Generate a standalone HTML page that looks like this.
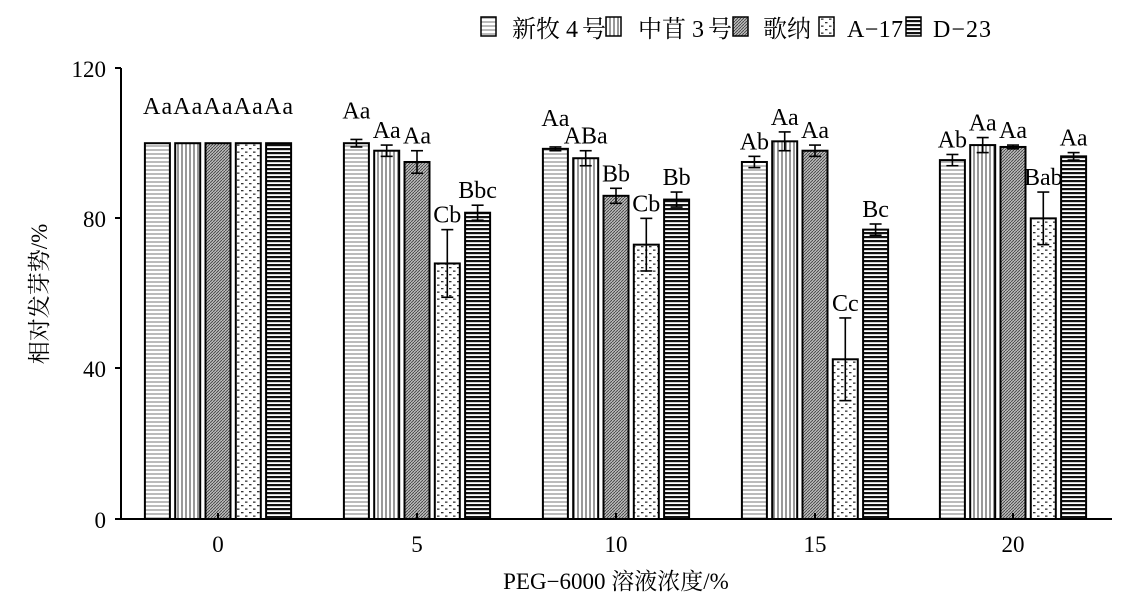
<!DOCTYPE html>
<html><head><meta charset="utf-8"><style>body{margin:0;background:#fff}svg{display:block}text{white-space:pre}</style></head><body>
<svg width="1121" height="595" xmlns="http://www.w3.org/2000/svg" font-family="Liberation Serif, Noto Serif CJK SC, serif">
<defs>
<pattern id="p0" width="4" height="4" patternUnits="userSpaceOnUse"><rect width="4" height="4" fill="#fff"/><line x1="0" y1="2" x2="4" y2="2" stroke="#777" stroke-width="1"/></pattern>
<pattern id="p1" width="4" height="4" patternUnits="userSpaceOnUse"><rect width="4" height="4" fill="#fff"/><line x1="2" y1="0" x2="2" y2="4" stroke="#555" stroke-width="1.2"/></pattern>
<pattern id="p2" width="3" height="3" patternUnits="userSpaceOnUse"><rect width="3" height="3" fill="#bbb"/><path d="M0 3L3 0" stroke="#444" stroke-width="0.9"/></pattern>
<pattern id="p3" width="8" height="7" patternUnits="userSpaceOnUse"><rect width="8" height="7" fill="#fff"/><rect x="1" y="1" width="2.5" height="1.3" fill="#333"/><rect x="5" y="4.5" width="2.5" height="1.3" fill="#333"/></pattern>
<pattern id="p4" width="4" height="4" patternUnits="userSpaceOnUse"><rect width="4" height="4" fill="#fff"/><rect x="0" y="0" width="4" height="2.2" fill="#111"/></pattern>
</defs>
<g id="bars" stroke="#000" stroke-width="2"></g>
<g id="err" stroke="#000" stroke-width="1.6"></g>
<g id="lab" font-size="24" text-anchor="middle"></g>
<line x1="121" y1="68" x2="121" y2="519" stroke="#000" stroke-width="2"/>
<line x1="121" y1="519" x2="1112" y2="519" stroke="#000" stroke-width="2"/>
<g stroke="#000" stroke-width="2">
<line x1="115" y1="68" x2="121" y2="68"/><line x1="115" y1="218" x2="121" y2="218"/><line x1="115" y1="368" x2="121" y2="368"/><line x1="115" y1="519" x2="121" y2="519"/>
<line x1="218" y1="519" x2="218" y2="513"/><line x1="417" y1="519" x2="417" y2="513"/><line x1="616" y1="519" x2="616" y2="513"/><line x1="815" y1="519" x2="815" y2="513"/><line x1="1013" y1="519" x2="1013" y2="513"/>
</g>
<g font-size="23" text-anchor="end"><text x="106" y="77">120</text><text x="106" y="227">80</text><text x="106" y="377">40</text><text x="106" y="528">0</text></g>
<g font-size="23" text-anchor="middle"><text x="218" y="552">0</text><text x="417" y="552">5</text><text x="616" y="552">10</text><text x="815" y="552">15</text><text x="1013" y="552">20</text></g>
<text x="616" y="589" font-size="23" text-anchor="middle">PEG−6000 溶液浓度/%</text>
<text transform="translate(47,294) rotate(-90)" font-size="23" text-anchor="middle">相对发芽势/%</text>
<g font-size="24" stroke="#000" stroke-width="1.5">
<rect x="481" y="17" width="15" height="19" fill="url(#p0)"/><text x="512" y="37" stroke="none">新牧</text><text x="566" y="37" stroke="none">4</text><text x="582" y="37" stroke="none">号</text>
<rect x="606" y="17" width="15" height="19" fill="url(#p1)"/><text x="638" y="37" stroke="none">中苜</text><text x="692" y="37" stroke="none">3</text><text x="708" y="37" stroke="none">号</text>
<rect x="733" y="17" width="15" height="19" fill="url(#p2)"/><text x="763" y="37" stroke="none">歌纳</text>
<rect x="819" y="17" width="15" height="19" fill="url(#p3)"/><text x="847" y="37" stroke="none" textLength="56">A−17</text>
<rect x="906" y="17" width="15" height="19" fill="url(#p4)"/><text x="933" y="37" stroke="none" textLength="58">D−23</text>
</g>
<script>
var data=[
[[100,0,""],[100,0,""],[100,0,""],[100,0,""],[100,0,""]],
[[100,1,"Aa",-14],[98,1.5,"Aa",0],[95,3,"Aa",0],[68,9,"Cb",0],[81.5,2,"Bbc",0]],
[[98.5,0.5,"Aa",-14],[96,2,"ABa",0],[86,2,"Bb",0],[73,7,"Cb",0],[85,2,"Bb",0]],
[[95,1.5,"Ab",0],[100.5,2.5,"Aa",0],[98,1.5,"Aa",0],[42.5,11,"Cc",0],[77,1.5,"Bc",0]],
[[95.5,1.5,"Ab",0],[99.5,2,"Aa",0],[99,0.5,"Aa",0],[80,7,"Bab",0],[96.5,1,"Aa",0]]];
var ns="http://www.w3.org/2000/svg",cx=[218,417,616,815,1013];
function Y(v){return 519-v*3.758;}
function el(t,a,p,txt){var e=document.createElementNS(ns,t);for(var k in a)e.setAttribute(k,a[k]);if(txt)e.textContent=txt;document.getElementById(p).appendChild(e);}
data.forEach(function(g,i){g.forEach(function(d,j){var c=cx[i]+(j-2)*30.3;var y=Y(d[0]);
el("rect",{x:c-12.5,y:y,width:25,height:519-y,fill:"url(#p"+j+")"},"bars");
if(d[1]>0){var t=Y(d[0]+d[1]),b=Y(d[0]-d[1]);el("line",{x1:c,y1:t,x2:c,y2:b},"err");el("line",{x1:c-6,y1:t,x2:c+6,y2:t},"err");el("line",{x1:c-6,y1:b,x2:c+6,y2:b},"err");}
if(d[2])el("text",{x:c,y:Y(d[0]+d[1])-7+d[3]},"lab",d[2]);});});
el("text",{x:218,y:114,textLength:150},"lab","AaAaAaAaAa");
</script>
</svg>
</body></html>
